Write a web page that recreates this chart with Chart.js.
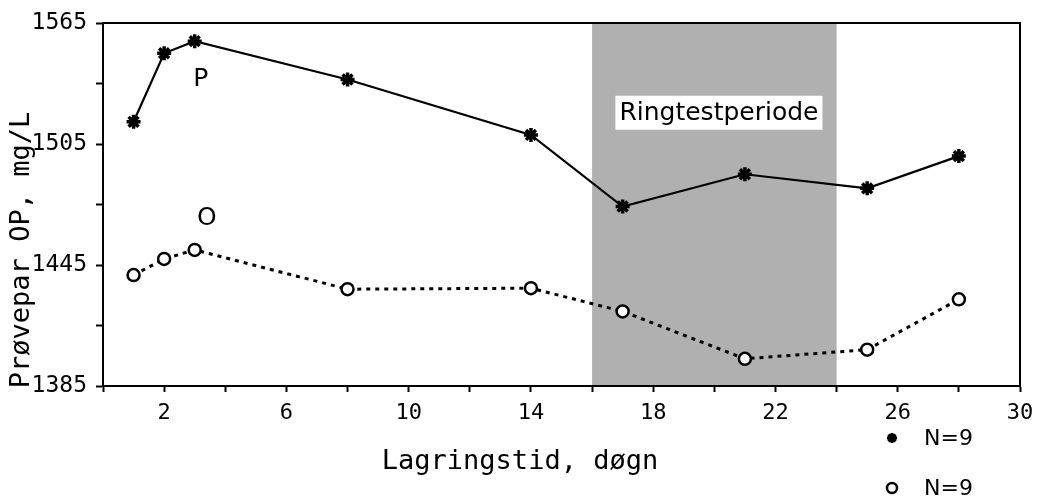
<!DOCTYPE html>
<html>
<head>
<meta charset="utf-8">
<script src="https://cdn.jsdelivr.net/npm/chart.js@4/dist/chart.umd.min.js"></script>
<style>
  html, body { margin: 0; padding: 0; background: #ffffff; }
  #wrap { width: 1042px; height: 504px; position: relative; }
</style>
</head>
<body>
<div id="wrap"><canvas id="c" width="1042" height="504"></canvas></div>
<script>
// ---- data ----
const days = [1, 2, 3, 8, 14, 17, 21, 25, 28];
const pValues = [1516, 1550, 1556, 1537, 1509.5, 1474, 1490, 1483, 1499];
const oValues = [1440, 1448, 1452.5, 1433, 1433.5, 1422, 1398.5, 1403, 1428];
const seriesNames = ['P', 'O'];
const legendLabels = ['N=9', 'N=9'];
const xTickLabels = [2, 6, 10, 14, 18, 22, 26, 30];
const yTickLabels = [1385, 1445, 1505, 1565];
const ringPeriod = [16, 24];
const ringLabel = 'Ringtestperiode';
const xTitle = 'Lagringstid, døgn';
const yTitle = 'Prøvepar OP, mg/L';

const MONO = '"DejaVu Sans Mono", "Liberation Mono", monospace';
const SANS = '"DejaVu Sans", "Liberation Sans", sans-serif';

const toPts = (vals) => days.map((d, i) => ({ x: d, y: vals[i] }));

const decorPlugin = {
  id: 'decor',
  beforeDatasetsDraw(chart) {
    const { ctx, chartArea: a, scales: { x } } = chart;
    const x0 = x.getPixelForValue(ringPeriod[0]);
    const x1 = x.getPixelForValue(ringPeriod[1]);
    ctx.save();
    ctx.fillStyle = '#b0b0b0';
    ctx.fillRect(x0, a.top, x1 - x0, a.bottom - a.top);
    ctx.restore();
  },
  afterDatasetsDraw(chart) {
    const { ctx, chartArea: a, scales: { x, y } } = chart;
    ctx.save();
    // frame
    ctx.strokeStyle = '#000';
    ctx.lineWidth = 2;
    ctx.strokeRect(a.left, a.top, a.right - a.left, a.bottom - a.top);
    // ring test label box
    ctx.font = '25px ' + SANS;
    const w = ctx.measureText(ringLabel).width;
    const cx = x.getPixelForValue(20.15), cy = y.getPixelForValue(1520.5);
    ctx.fillStyle = '#fff';
    ctx.fillRect(cx - w / 2 - 4, cy - 17, w + 8, 34);
    ctx.fillStyle = '#000';
    ctx.textAlign = 'center';
    ctx.textBaseline = 'middle';
    ctx.fillText(ringLabel, cx, cy + 1);
    // series labels
    ctx.font = '25px ' + SANS;
    ctx.fillText(seriesNames[0], x.getPixelForValue(3.2), y.getPixelForValue(1537));
    ctx.fillText(seriesNames[1], x.getPixelForValue(3.4), y.getPixelForValue(1468));
    ctx.restore();
  },
  afterDraw(chart) {
    const { ctx } = chart;
    ctx.save();
    ctx.fillStyle = '#000';
    // axis titles
    ctx.font = '27px ' + MONO;
    ctx.textAlign = 'center';
    ctx.textBaseline = 'middle';
    ctx.fillText(xTitle, 520, 462);
    ctx.translate(22, 250);
    ctx.rotate(-Math.PI / 2);
    ctx.fillText(yTitle, 0, 0);
    ctx.restore();
    // legend
    ctx.save();
    const rows = [438, 488];
    chart.data.datasets.forEach((ds, i) => {
      ctx.strokeStyle = '#000';
      ctx.fillStyle = i === 0 ? '#000' : '#fff';
      ctx.lineWidth = i === 0 ? 3 : 2.5;
      Chart.helpers.drawPoint(ctx, { pointStyle: ds.pointStyle, radius: 5, rotation: 0, borderWidth: ctx.lineWidth }, 892, rows[i]);
      ctx.fillStyle = '#000';
      ctx.font = '22px ' + SANS;
      ctx.textAlign = 'left';
      ctx.textBaseline = 'middle';
      ctx.fillText(legendLabels[i], 924, rows[i] + 1);
    });
    ctx.restore();
  }
};

new Chart(document.getElementById('c'), {
  type: 'line',
  data: {
    datasets: [
      {
        label: legendLabels[0],
        data: toPts(pValues),
        borderColor: '#000',
        borderWidth: 2.2,
        pointStyle: 'star',
        pointRadius: 7,
        pointBorderWidth: 3.5,
        pointBorderColor: '#000',
        pointBackgroundColor: '#000',
        tension: 0
      },
      {
        label: legendLabels[1],
        data: toPts(oValues),
        borderColor: '#000',
        borderWidth: 3,
        borderDash: [4, 5],
        pointStyle: 'circle',
        pointRadius: 6,
        pointBorderWidth: 2.5,
        pointBorderColor: '#000',
        pointBackgroundColor: '#fff',
        tension: 0
      }
    ]
  },
  options: {
    responsive: false,
    animation: false,
    layout: { padding: { top: 23, right: 22, left: 0, bottom: 0 } },
    plugins: { legend: { display: false }, tooltip: { enabled: false } },
    scales: {
      x: {
        type: 'linear',
        min: 0, max: 30,
        afterFit(s) { s.height = 118; },
        border: { color: '#000', width: 2 },
        grid: { drawOnChartArea: false, color: '#000', tickLength: 6, tickWidth: 2 },
        ticks: {
          stepSize: 2,
          color: '#000',
          font: { family: MONO, size: 22 },
          padding: 8,
          maxRotation: 0,
          autoSkip: false,
          callback: (v) => xTickLabels.includes(v) ? String(v) : ''
        }
      },
      y: {
        min: 1385, max: 1565,
        afterFit(s) { s.width = 103; },
        border: { color: '#000', width: 2 },
        grid: { drawOnChartArea: false, color: '#000', tickLength: 7, tickWidth: 2 },
        ticks: {
          stepSize: 30,
          color: '#000',
          font: { family: MONO, size: 23 },
          padding: 9,
          autoSkip: false,
          callback: (v) => yTickLabels.includes(v) ? String(v) : ''
        }
      }
    }
  },
  plugins: [decorPlugin]
});
</script>
</body>
</html>
